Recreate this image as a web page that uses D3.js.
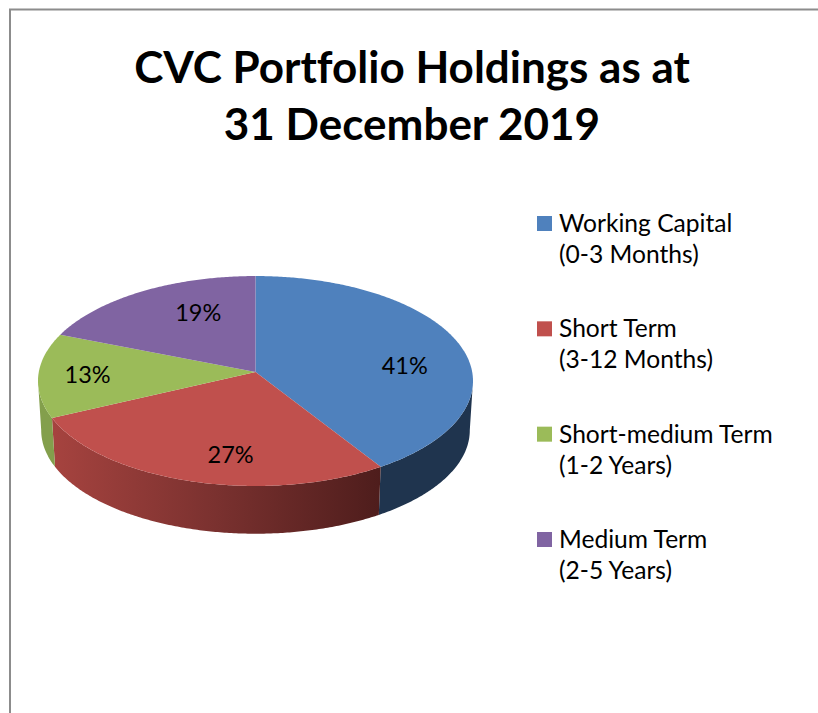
<!DOCTYPE html>
<html>
<head>
<meta charset="utf-8">
<script src="https://cdn.jsdelivr.net/npm/d3@7"></script>
<style>
    html, body { margin: 0; padding: 0; background: #fff; }
    svg { display: block; }
    text { font-family: Lato, "Open Sans", sans-serif; fill: #000; font-variant-ligatures: none; }
</style>
</head>
<body>
<svg id="chart"></svg>
<script>
// Data
const categories = ['Working Capital', 'Short Term', 'Short-medium Term', 'Medium Term'];
const periods = ['(0-3 Months)', '(3-12 Months)', '(1-2 Years)', '(2-5 Years)'];
const shares = [41, 27, 13, 19];
const titleLines = ['CVC Portfolio Holdings as at', '31 December 2019'];

const colors = ['#4F81BD', '#C0504D', '#9BBB59', '#8064A2'];
const wallColors = ['#1F344E', 'url(#redWall)', '#839F4C', '#6A5287'];

const width = 818;
const height = 713;

const svg = d3.select('#chart')
    .attr('width', width)
    .attr('height', height)
    .attr('viewBox', `0 0 ${width} ${height}`);

// Frame, runs off the right and bottom of the picture
svg.append('path')
    .attr('d', `M10,${height}V9.5H${width}`)
    .attr('fill', 'none')
    .attr('stroke', '#8c8c8c')
    .attr('stroke-width', 2);

// Title
svg.append('g')
    .selectAll('text')
    .data(titleLines)
    .join('text')
    .attr('x', 412)
    .attr('y', (d, i) => 83 + i * 57)
    .attr('text-anchor', 'middle')
    .attr('font-size', 44)
    .attr('font-weight', 700)
    .text(d => d);

// Pie is a circle seen in perspective, so the far side comes out shorter
const pers = 0.0857;
const topDisc = { cx: 255.5, cy: 372, a: 216.7, b: 104.2 };
const baseDisc = { cx: 255.5, cy: 421.5, a: 213.5, b: 102.6 };

function project(disc, angle, r = 1) {
    const u = r * Math.sin(angle);
    const v = r * Math.cos(angle);
    const w = 1 + pers * v;
    return [disc.cx + disc.a * u / w, disc.cy - disc.b * v / w];
}

const pie = d3.pie().sort(null);
const slices = pie(shares);
const line = d3.line();

function rim(disc, a0, a1) {
    const n = Math.max(2, Math.ceil((a1 - a0) / 0.01));
    return d3.range(n + 1).map(i => project(disc, a0 + (a1 - a0) * i / n));
}

// Where the disc is widest: only the part of the rim in front of this shows a wall
const silhouette = Math.acos(-pers);

// Red wall darkens from left to right
const defs = svg.append('defs');
const redWall = defs.append('linearGradient')
    .attr('id', 'redWall')
    .attr('gradientUnits', 'userSpaceOnUse')
    .attr('x1', project(topDisc, slices[1].endAngle)[0])
    .attr('x2', project(topDisc, slices[1].startAngle)[0])
    .attr('y1', 0)
    .attr('y2', 0);
redWall.append('stop').attr('offset', 0).attr('stop-color', '#A6433F');
redWall.append('stop').attr('offset', 0.5).attr('stop-color', '#7A312F');
redWall.append('stop').attr('offset', 1).attr('stop-color', '#4E1D1C');

// Walls first, the top surface covers what should not show
svg.append('g')
    .selectAll('path')
    .data(slices)
    .join('path')
    .attr('fill', (d, i) => wallColors[i])
    .attr('d', d => {
        const a0 = Math.max(d.startAngle, silhouette);
        const a1 = Math.min(d.endAngle, 2 * Math.PI - silhouette);
        if (a1 <= a0) return null;
        const upper = rim(topDisc, a0, a1);
        const lower = rim(baseDisc, a0, a1).reverse();
        return line(upper.concat(lower)) + 'Z';
    });

// Top surface
svg.append('g')
    .selectAll('path')
    .data(slices)
    .join('path')
    .attr('fill', (d, i) => colors[i])
    .attr('d', d => line([[topDisc.cx, topDisc.cy]].concat(rim(topDisc, d.startAngle, d.endAngle))) + 'Z');

// Percent labels: at 70% of the radius, then nudged the way the original fits them
const labelNudge = [[6, 14], [20, 8], [-16, 0], [24, -1.5]];
svg.append('g')
    .selectAll('text')
    .data(slices)
    .join('text')
    .attr('transform', (d, i) => {
        const p = project(topDisc, (d.startAngle + d.endAngle) / 2, 0.7);
        return `translate(${p[0] + labelNudge[i][0]},${p[1] + labelNudge[i][1]})`;
    })
    .attr('text-anchor', 'middle')
    .attr('dy', '0.35em')
    .attr('font-size', 23.5)
    .text(d => `${d.data}%`);

// Legend
const legendY = d3.scalePoint()
    .domain(categories)
    .range([216, 532]);

const legend = svg.append('g')
    .selectAll('g')
    .data(categories)
    .join('g')
    .attr('transform', d => `translate(537,${legendY(d)})`);

legend.append('rect')
    .attr('width', 15)
    .attr('height', 15)
    .attr('fill', (d, i) => colors[i]);

legend.append('text')
    .attr('x', 22)
    .attr('y', 16)
    .attr('font-size', 24.6)
    .text(d => d);

legend.append('text')
    .attr('x', 22)
    .attr('y', 47)
    .attr('font-size', 24.6)
    .text((d, i) => periods[i]);
</script>
</body>
</html>
